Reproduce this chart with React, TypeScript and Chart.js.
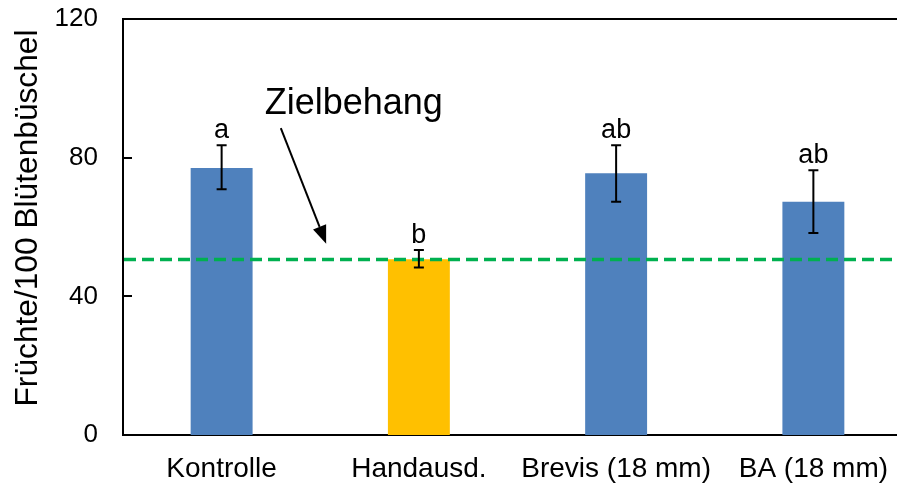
import React, { useEffect, useRef } from "react";
import { Chart, registerables } from "chart.js";

Chart.register(...registerables);

// ---- data ----
const categories = ["Kontrolle", "Handausd.", "Brevis (18 mm)", "BA (18 mm)"];
const means = [77.0, 50.7, 75.5, 67.3];
const errLow = [70.9, 48.3, 67.3, 58.3];
const errHigh = [83.6, 53.4, 83.6, 76.4];
const letters = ["a", "b", "ab", "ab"];
const barColors = ["#4F81BD", "#FFC000", "#4F81BD", "#4F81BD"];
const yTicks = [0, 40, 80, 120];
const targetValue = 50.6;
const targetLabel = "Zielbehang";
const yTitle = "Früchte/100 Blütenbüschel";

const FONT = "'Liberation Sans', Arial, sans-serif";

const overlay = {
  id: "overlay",
  afterDatasetsDraw(chart: any) {
    const { ctx, chartArea, scales } = chart;
    const x = scales.x;
    const y = scales.y;
    const step = x.getPixelForValue(1) - x.getPixelForValue(0);
    const xAt = (f: number) => x.getPixelForValue(0) + f * step;
    ctx.save();

    // top border of plot box
    ctx.strokeStyle = "#000";
    ctx.lineWidth = 2;
    ctx.beginPath();
    ctx.moveTo(chartArea.left - 1, chartArea.top);
    ctx.lineTo(chartArea.right, chartArea.top);
    ctx.stroke();

    // inside tick marks
    ctx.beginPath();
    yTicks.forEach((v) => {
      const py = Math.round(y.getPixelForValue(v));
      ctx.moveTo(chartArea.left, py);
      ctx.lineTo(chartArea.left + 9, py);
    });
    ctx.stroke();

    // target dashed line
    const ty = y.getPixelForValue(targetValue);
    ctx.strokeStyle = "#00B050";
    ctx.lineWidth = 3.5;
    ctx.setLineDash([12, 6]);
    ctx.beginPath();
    ctx.moveTo(chartArea.left + 1, ty);
    ctx.lineTo(chartArea.right, ty);
    ctx.stroke();
    ctx.setLineDash([]);

    // error bars and letters
    ctx.strokeStyle = "#000";
    ctx.lineWidth = 2;
    ctx.fillStyle = "#000";
    ctx.font = `27px ${FONT}`;
    ctx.textAlign = "center";
    ctx.textBaseline = "alphabetic";
    categories.forEach((_, i) => {
      const px = x.getPixelForValue(i);
      const yh = y.getPixelForValue(errHigh[i]);
      const yl = y.getPixelForValue(errLow[i]);
      ctx.beginPath();
      ctx.moveTo(px, yh);
      ctx.lineTo(px, yl);
      ctx.moveTo(px - 5, yh);
      ctx.lineTo(px + 5, yh);
      ctx.moveTo(px - 5, yl);
      ctx.lineTo(px + 5, yl);
      ctx.stroke();
      ctx.fillText(letters[i], px, yh - 7);
    });

    // annotation text
    ctx.font = `36px ${FONT}`;
    ctx.fillText(targetLabel, xAt(0.67), y.getPixelForValue(92.5));

    // arrow
    const ax1 = xAt(0.3);
    const ay1 = y.getPixelForValue(88.5);
    const ax2 = xAt(0.53);
    const ay2 = y.getPixelForValue(55.2);
    const ang = Math.atan2(ay2 - ay1, ax2 - ax1);
    const headLen = 18;
    const headW = 7;
    const bx = ax2 - headLen * Math.cos(ang);
    const by = ay2 - headLen * Math.sin(ang);
    ctx.lineWidth = 2;
    ctx.beginPath();
    ctx.moveTo(ax1, ay1);
    ctx.lineTo(bx, by);
    ctx.stroke();
    ctx.beginPath();
    ctx.moveTo(ax2, ay2);
    ctx.lineTo(bx + headW * Math.sin(ang), by - headW * Math.cos(ang));
    ctx.lineTo(bx - headW * Math.sin(ang), by + headW * Math.cos(ang));
    ctx.closePath();
    ctx.fill();

    // y axis title
    ctx.save();
    ctx.translate(37, (chartArea.top + chartArea.bottom) / 2 - 9);
    ctx.rotate(-Math.PI / 2);
    ctx.font = `31.7px ${FONT}`;
    ctx.textAlign = "center";
    ctx.textBaseline = "alphabetic";
    ctx.fillText(yTitle, 0, 0);
    ctx.restore();

    ctx.restore();
  },
};

export default function App() {
  const ref = useRef<HTMLCanvasElement | null>(null);
  useEffect(() => {
    if (!ref.current) return;
    const chart = new Chart(ref.current, {
      type: "bar",
      data: {
        labels: categories,
        datasets: [
          {
            data: means,
            backgroundColor: barColors,
            borderWidth: 0,
            barPercentage: 0.314,
            categoryPercentage: 1,
          },
        ],
      },
      options: {
        responsive: false,
        animation: false,
        layout: { padding: { left: 0, right: 0, top: 19, bottom: 0 } },
        plugins: { legend: { display: false }, tooltip: { enabled: false } },
        scales: {
          x: {
            grid: { display: false, drawTicks: false },
            border: { display: true, color: "#000", width: 2 },
            ticks: {
              color: "#000",
              font: { family: FONT, size: 28 },
              padding: 17,
              maxRotation: 0,
              autoSkip: false,
            },
            afterFit: (s: any) => {
              s.height = 51;
              s.paddingLeft = 0;
              s.paddingRight = 0;
            },
          },
          y: {
            min: 0,
            max: 120,
            grid: { display: false, drawTicks: false },
            border: { display: true, color: "#000", width: 2 },
            ticks: {
              stepSize: 40,
              color: "#000",
              font: { family: FONT, size: 26 },
              padding: 25,
            },
            afterFit: (s: any) => {
              s.width = 123;
              s.paddingTop = 0;
              s.paddingBottom = 0;
            },
          },
        },
      },
      plugins: [overlay],
    });
    return () => chart.destroy();
  }, []);
  return (
    <div
      style={{
        position: "fixed",
        left: 0,
        top: 0,
        width: 897,
        height: 486,
        overflow: "hidden",
        background: "#fff",
      }}
    >
      <canvas ref={ref} width={912} height={486} style={{ width: 912, height: 486 }} />
    </div>
  );
}
